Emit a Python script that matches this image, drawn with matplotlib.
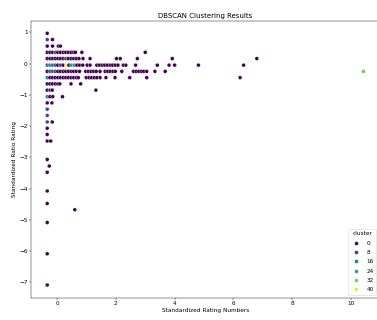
import matplotlib
matplotlib.use("Agg")
import matplotlib.pyplot as plt
import seaborn as sns
import pandas as pd

# Rows of points: (y value, x values, cluster labels)
row_y = [0.97, 0.77, 0.56, 0.36, 0.16, -0.05, -0.25, -0.45, -0.65, -0.85,
         -1.06, -1.26, -1.46, -1.66, -1.87, -2.07, -2.27, -2.48, -3.07, -3.28,
         -3.48, -4.08, -4.48, -4.68, -5.09, -6.09, -7.09, -0.25]

row_x = [
    [-0.34],
    [-0.34, -0.16],
    [-0.34, -0.16, 0.04, 0.11],
    [-0.34, -0.25, -0.16, -0.07, 0.02, 0.11, 0.2, 0.29, 0.38, 0.47, 0.56, 0.62, 0.84, 3.0],
    [-0.34, -0.25, -0.16, -0.07, 0.02, 0.11, 0.2, 0.29, 0.38, 0.47, 0.56, 0.65, 0.74,
     0.88, 1.12, 2.02, 2.15, 2.73, 3.92, 6.8],
    [-0.34, -0.25, -0.16, -0.07, 0.02, 0.11, 0.2, 0.31, 0.4, 0.49, 0.58, 0.67, 0.76,
     0.87, 1.02, 1.12, 1.35, 1.44, 1.53, 1.62, 1.71, 1.8, 1.89, 1.98, 2.07, 2.25, 2.34,
     2.67, 3.41, 3.81, 4.0, 4.81, 6.35],
    [-0.34, -0.25, -0.16, -0.07, 0.02, 0.11, 0.2, 0.29, 0.38, 0.47, 0.56, 0.65, 0.76,
     0.97, 1.06, 1.15, 1.24, 1.33, 1.46, 1.63, 1.72, 1.81, 1.9, 1.98, 2.2, 2.6, 2.69,
     2.78, 2.87, 2.95, 3.05, 3.33, 3.68],
    [-0.34, -0.25, -0.16, -0.07, 0.02, 0.11, 0.2, 0.29, 0.38, 0.47, 0.56, 0.65, 0.72, 0.99,
     1.08, 1.17, 1.26, 1.35, 1.46, 1.66, 1.97, 2.47, 3.05, 6.23],
    [-0.34, -0.25, -0.16, -0.07, 0.02, 0.09, 0.47, 0.8],
    [-0.34, -0.25, -0.17, 1.32],
    [-0.34, -0.25, -0.15, 0.18],
    [-0.34, -0.18],
    [-0.34],
    [-0.34],
    [-0.34, -0.17],
    [-0.34],
    [-0.34],
    [-0.34, -0.22],
    [-0.34],
    [-0.27],
    [-0.34],
    [-0.34],
    [-0.34],
    [0.6],
    [-0.34],
    [-0.34],
    [-0.34],
    [10.43],
]

# cluster labels for the coloured points, keyed by (row index, point index)
special_clusters = {
    (1, 0): 9,
    (3, 3): 10,
    (4, 7): 10,
    (5, 0): 12, (5, 1): 18, (5, 2): 14, (5, 3): 10, (5, 5): 9,
    (5, 7): 41, (5, 9): 22, (5, 10): 24,
    (6, 1): 9, (6, 2): 11, (6, 3): 10,
    (7, 0): 20,
    (9, 1): 8,
    (10, 0): 20,
    (12, 0): 9,
    (13, 0): 9,
    (14, 0): 9,
    (27, 0): 32,
}

xs, ys, cs = [], [], []
for i, (yv, xl) in enumerate(zip(row_y, row_x)):
    for j, xv in enumerate(xl):
        xs.append(xv)
        ys.append(yv)
        cs.append(special_clusters.get((i, j), 0))

df = pd.DataFrame({"Standardized Rating Numbers": xs,
                   "Standardized Ratio Rating": ys,
                   "cluster": cs})

plt.rcParams.update({"font.size": 11, "axes.titlesize": 13.5, "axes.labelsize": 11,
                     "xtick.labelsize": 11, "ytick.labelsize": 11,
                     "legend.fontsize": 11, "legend.title_fontsize": 11})

fig = plt.figure(figsize=(10, 320 / 37.7), dpi=37.7)
ax = fig.add_axes([0.0833, 0.07, 0.9225, 0.8653])
sns.scatterplot(data=df, x="Standardized Rating Numbers", y="Standardized Ratio Rating",
                hue="cluster", palette="viridis", s=55, ax=ax)
ax.set_title("DBSCAN Clustering Results")
ax.legend(title="cluster", loc="lower right", labelspacing=0.75)
fig.savefig("out.png", dpi=37.7)
